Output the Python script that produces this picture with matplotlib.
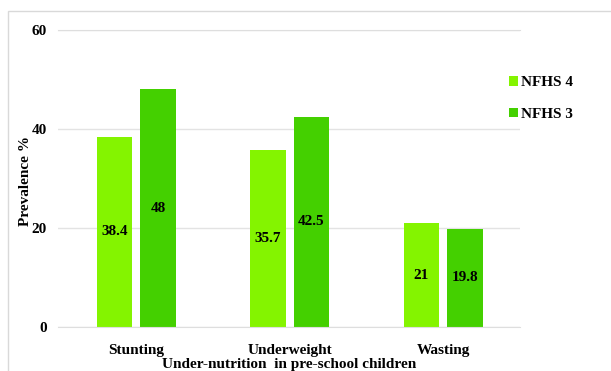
import matplotlib
matplotlib.use("Agg")
import matplotlib.pyplot as plt
from matplotlib.patches import Rectangle
import numpy as np

categories = ["Stunting", "Underweight", "Wasting"]
nfhs4 = [38.4, 35.7, 21]
nfhs3 = [48, 42.5, 19.8]
series_names = ["NFHS 4", "NFHS 3"]
yticks = [0, 20, 40, 60]

plt.rcParams['font.family'] = ['Liberation Serif', 'DejaVu Serif']
c4 = "#84F400"
c3 = "#44D000"

fig = plt.figure(figsize=(6.11, 3.71), dpi=100)
fig.patches.append(Rectangle((8/611, -0.05), 1.0, 1 - 11/371 + 0.05, transform=fig.transFigure,
                             fill=False, edgecolor="#d9d9d9", linewidth=1.0))
ax = fig.add_axes([58/611, 1 - 327/371, (520 - 58)/611, (327 - 30)/371])

x = np.arange(len(categories))
off = 0.283
w = 0.231
ax.set_axisbelow(True)
ax.yaxis.grid(True, color="#e3e3e3", linewidth=1.0)
b4 = ax.bar(x - off/2, nfhs4, w, color=c4, label=series_names[0])
b3 = ax.bar(x + off/2, nfhs3, w, color=c3, label=series_names[1])
for bars, vals in ((b4, nfhs4), (b3, nfhs3)):
    for r, v in zip(bars, vals):
        ax.text(r.get_x() + r.get_width()/2, v/2, f"{v:g}", ha="center", va="center",
                fontsize=11, fontweight="bold")

ax.set_xlim(-0.51, 2.5)
ax.set_ylim(0, 60)
ax.set_yticks(yticks)
ax.set_yticklabels([str(t) for t in yticks], fontsize=11, fontweight="bold")
ax.set_xticks(x)
ax.set_xticklabels(categories, fontsize=11, fontweight="bold")
ax.tick_params(length=0, pad=8, axis="y")
ax.tick_params(length=0, pad=12, axis="x")
for s in ("left", "right"):
    ax.spines[s].set_visible(False)
for s in ("top", "bottom"):
    ax.spines[s].set_color("#dedede")
ax.set_ylabel("Prevalence %", fontsize=11, fontweight="bold")
ax.yaxis.set_label_coords(-0.057, 0.49)
ax.set_xlabel("Under-nutrition  in pre-school children", fontsize=11, fontweight="bold", labelpad=1)

ax.legend(loc="upper left", bbox_to_anchor=(0.976, 0.845), frameon=False,
          prop={"weight": "bold", "size": 11}, handlelength=0.6, handleheight=0.6,
          handletextpad=0.2, labelspacing=1.2, borderpad=0, borderaxespad=0)

fig.savefig("out.png", dpi=100)
